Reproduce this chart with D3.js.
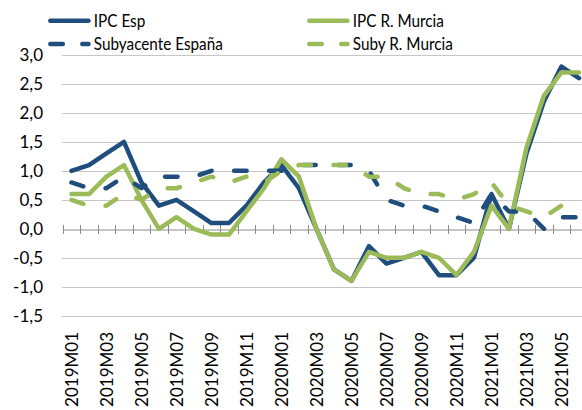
<!DOCTYPE html>
<html><head><meta charset="utf-8">
<script src="https://cdn.jsdelivr.net/npm/d3@7"></script>
<style>
html,body{margin:0;padding:0;background:#fff;}
svg{display:block;font-family:Lato,"Open Sans",sans-serif;}
</style></head>
<body><svg id="c" width="582" height="410"></svg>
<script>
const months = ["2019M01","2019M02","2019M03","2019M04","2019M05","2019M06","2019M07","2019M08","2019M09","2019M10","2019M11","2019M12",
"2020M01","2020M02","2020M03","2020M04","2020M05","2020M06","2020M07","2020M08","2020M09","2020M10","2020M11","2020M12",
"2021M01","2021M02","2021M03","2021M04","2021M05","2021M06"];
const ipcEsp =       [1.0,1.1,1.3,1.5,0.8,0.4,0.5,0.3,0.1,0.1,0.4,0.8, 1.1,0.7,0.0,-0.7,-0.9,-0.3,-0.6,-0.5,-0.4,-0.8,-0.8,-0.5, 0.6,0.0,1.3,2.2,2.8,2.6];
const ipcMurcia =    [0.6,0.6,0.9,1.1,0.5,0.0,0.2,0.0,-0.1,-0.1,0.3,0.7, 1.2,0.9,0.0,-0.7,-0.9,-0.4,-0.5,-0.5,-0.4,-0.5,-0.8,-0.4, 0.4,0.0,1.4,2.3,2.7,2.7];
const subyEsp =      [0.8,0.7,0.7,0.9,0.7,0.9,0.9,0.9,1.0,1.0,1.0,1.0, 1.0,1.1,1.1,1.1,1.1,1.0,0.5,0.4,0.4,0.3,0.2,0.1, 0.6,0.3,0.3,0.0,0.2,0.2];
const subyMurcia =   [0.5,0.4,0.4,0.6,0.5,0.7,0.7,0.8,0.9,0.8,0.9,0.8, 1.0,1.1,1.1,1.1,1.1,0.9,0.9,0.7,0.6,0.6,0.5,0.6, 0.8,0.4,0.3,0.2,0.4,0.2];
const yTicks = [3.0,2.5,2.0,1.5,1.0,0.5,0.0,-0.5,-1.0,-1.5];
const seriesNames = ["IPC Esp","IPC R. Murcia","Subyacente España","Suby R. Murcia"];

const BLUE = "#1F4E7E", GREEN = "#9BBB59";
const series = [
  {name: seriesNames[0], values: ipcEsp, color: BLUE, dash: null},
  {name: seriesNames[1], values: ipcMurcia, color: GREEN, dash: null},
  {name: seriesNames[2], values: subyEsp, color: BLUE, dash: "12.5,22.5"},
  {name: seriesNames[3], values: subyMurcia, color: GREEN, dash: "12.5,22.5"}
];

const svg = d3.select("#c");
const x = d3.scaleBand().domain(months).range([62.7, 587.7]).padding(0);
const y = d3.scaleLinear().domain([-1.5, 3.0]).range([315.7, 55]);
const fmt = v => d3.format(".1f")(v).replace(".", ",").replace("−","-");

// gridlines
svg.append("g").selectAll("line").data(yTicks.filter(v => v !== 0)).join("line")
  .attr("x1", 62).attr("x2", 590).attr("y1", d => Math.round(y(d)) + 0.5).attr("y2", d => Math.round(y(d)) + 0.5)
  .attr("stroke", "#C6C6C6").attr("stroke-width", 1);

// y labels
svg.append("g").selectAll("text").data(yTicks).join("text")
  .attr("x", 43).attr("y", d => y(d)).attr("dy", "0.36em")
  .attr("text-anchor", "end").attr("font-size", 17).attr("fill", "#000")
  .text(d => fmt(d));

// x axis at zero
const x0 = Math.round(y(0)) + 0.5;
const xAxis = d3.axisBottom(x).tickValues([]).tickSizeOuter(0);
const ax = svg.append("g").attr("transform", `translate(0,${x0})`).call(xAxis);
ax.select(".domain").attr("stroke", "#8C8C8C");
const bounds = months.map(m => x(m)).concat([x(months[months.length-1]) + x.bandwidth()]);
svg.append("g").selectAll("line").data(bounds).join("line")
  .attr("x1", d => Math.round(d) + 0.5).attr("x2", d => Math.round(d) + 0.5)
  .attr("y1", x0 - 4.5).attr("y2", x0 + 4.5)
  .attr("stroke", "#8C8C8C").attr("stroke-width", 1);

// x labels
svg.append("g").selectAll("text").data(months.filter((m, i) => i % 2 === 0)).join("text")
  .attr("transform", d => `translate(${x(d) + x.bandwidth()/2},332) rotate(-90)`)
  .attr("dy", "0.36em").attr("text-anchor", "end").attr("font-size", 17).attr("fill", "#000")
  .text(d => d);

// lines
const line = d3.line().x((d, i) => x(months[i]) + x.bandwidth()/2).y(d => y(d));
svg.append("g").selectAll("path").data(series).join("path")
  .attr("d", d => line(d.values))
  .attr("fill", "none").attr("stroke", d => d.color).attr("stroke-width", 4.5)
  .attr("stroke-linejoin", "round").attr("stroke-linecap", "round")
  .attr("stroke-dasharray", d => d.dash);

// legend
const legPos = [[50.3, 20.7],[309.3, 20.7],[50.3, 44],[309.3, 44]];
const lg = svg.append("g").selectAll("g").data(series).join("g")
  .attr("transform", (d, i) => `translate(${legPos[i][0]},${legPos[i][1]})`);
lg.append("line").attr("x1", 0).attr("x2", 38.2).attr("y1", 0).attr("y2", 0)
  .attr("stroke", d => d.color).attr("stroke-width", 4.5).attr("stroke-linecap", "round")
  .attr("stroke-dasharray", d => d.dash ? "12.5,19.5" : null);
lg.append("text").attr("transform", "translate(43.5,0) scale(0.9,1)").attr("dy", "0.36em")
  .attr("font-size", 17).attr("fill", "#000").text(d => d.name);
</script></body></html>
